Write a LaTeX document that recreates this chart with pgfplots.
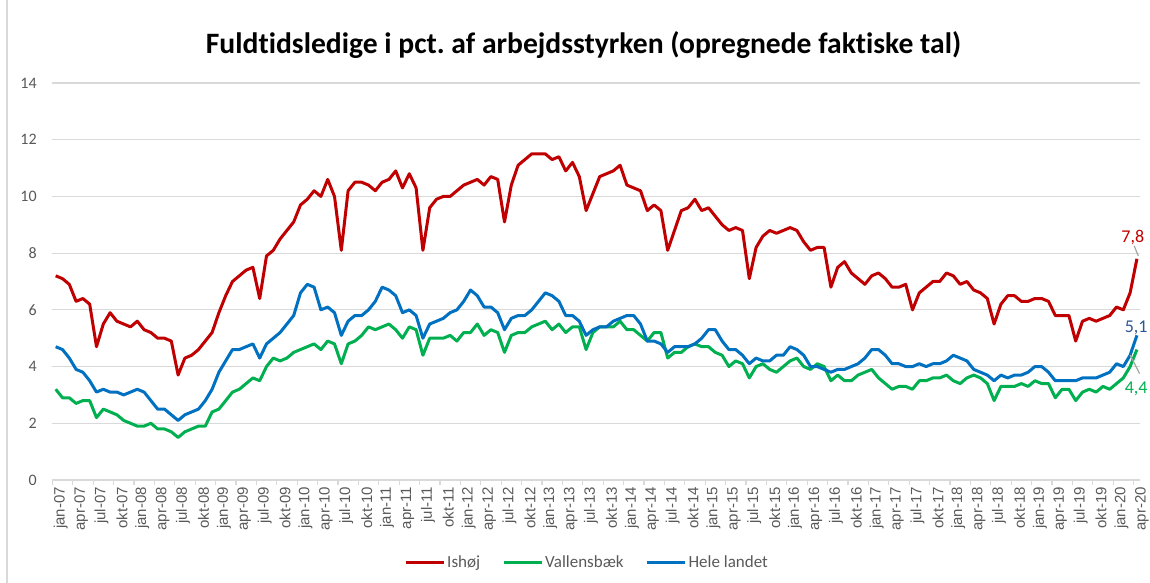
\documentclass[border=0pt]{standalone}
\usepackage{fontspec}
\setmainfont{Carlito}[Ligatures=NoCommon]
\newfontfamily\arialf{Liberation Sans}
\usepackage{pgfplots}
\usepackage{pgfplotstable}
\pgfplotsset{compat=1.18}
\definecolor{cred}{HTML}{C00000}
\definecolor{cgreen}{HTML}{00B050}
\definecolor{cblue}{HTML}{0070C0}
\definecolor{lblue}{HTML}{2F5597}
\definecolor{gridc}{HTML}{D9D9D9}
\definecolor{txt}{HTML}{595959}

\pgfplotstableread{
ish val hel
7.2 3.2 4.7
7.1 2.9 4.6
6.9 2.9 4.3
6.3 2.7 3.9
6.4 2.8 3.8
6.2 2.8 3.5
4.7 2.2 3.1
5.5 2.5 3.2
5.9 2.4 3.1
5.6 2.3 3.1
5.5 2.1 3.0
5.4 2.0 3.1
5.6 1.9 3.2
5.3 1.9 3.1
5.2 2.0 2.8
5.0 1.8 2.5
5.0 1.8 2.5
4.9 1.7 2.3
3.7 1.5 2.1
4.3 1.7 2.3
4.4 1.8 2.4
4.6 1.9 2.5
4.9 1.9 2.8
5.2 2.4 3.2
5.9 2.5 3.8
6.5 2.8 4.2
7.0 3.1 4.6
7.2 3.2 4.6
7.4 3.4 4.7
7.5 3.6 4.8
6.4 3.5 4.3
7.9 4.0 4.8
8.1 4.3 5.0
8.5 4.2 5.2
8.8 4.3 5.5
9.1 4.5 5.8
9.7 4.6 6.6
9.9 4.7 6.9
10.2 4.8 6.8
10.0 4.6 6.0
10.6 4.9 6.1
10.0 4.8 5.9
8.1 4.1 5.1
10.2 4.8 5.6
10.5 4.9 5.8
10.5 5.1 5.8
10.4 5.4 6.0
10.2 5.3 6.3
10.5 5.4 6.8
10.6 5.5 6.7
10.9 5.3 6.5
10.3 5.0 5.9
10.8 5.4 6.0
10.3 5.3 5.8
8.1 4.4 5.0
9.6 5.0 5.5
9.9 5.0 5.6
10.0 5.0 5.7
10.0 5.1 5.9
10.2 4.9 6.0
10.4 5.2 6.3
10.5 5.2 6.7
10.6 5.5 6.5
10.4 5.1 6.1
10.7 5.3 6.1
10.6 5.2 5.9
9.1 4.5 5.3
10.4 5.1 5.7
11.1 5.2 5.8
11.3 5.2 5.8
11.5 5.4 6.0
11.5 5.5 6.3
11.5 5.6 6.6
11.3 5.3 6.5
11.4 5.5 6.3
10.9 5.2 5.8
11.2 5.4 5.8
10.7 5.4 5.6
9.5 4.6 5.1
10.1 5.2 5.3
10.7 5.4 5.4
10.8 5.4 5.4
10.9 5.4 5.6
11.1 5.6 5.7
10.4 5.3 5.8
10.3 5.3 5.8
10.2 5.1 5.5
9.5 4.9 4.9
9.7 5.2 4.9
9.5 5.2 4.8
8.1 4.3 4.5
8.8 4.5 4.7
9.5 4.5 4.7
9.6 4.7 4.7
9.9 4.8 4.8
9.5 4.7 5.0
9.6 4.7 5.3
9.3 4.5 5.3
9.0 4.4 4.9
8.8 4.0 4.6
8.9 4.2 4.6
8.8 4.1 4.4
7.1 3.6 4.1
8.2 4.0 4.3
8.6 4.1 4.2
8.8 3.9 4.2
8.7 3.8 4.4
8.8 4.0 4.4
8.9 4.2 4.7
8.8 4.3 4.6
8.4 4.0 4.4
8.1 3.9 4.0
8.2 4.1 4.0
8.2 4.0 3.9
6.8 3.5 3.8
7.5 3.7 3.9
7.7 3.5 3.9
7.3 3.5 4.0
7.1 3.7 4.1
6.9 3.8 4.3
7.2 3.9 4.6
7.3 3.6 4.6
7.1 3.4 4.4
6.8 3.2 4.1
6.8 3.3 4.1
6.9 3.3 4.0
6.0 3.2 4.0
6.6 3.5 4.1
6.8 3.5 4.0
7.0 3.6 4.1
7.0 3.6 4.1
7.3 3.7 4.2
7.2 3.5 4.4
6.9 3.4 4.3
7.0 3.6 4.2
6.7 3.7 3.9
6.6 3.6 3.8
6.4 3.4 3.7
5.5 2.8 3.5
6.2 3.3 3.7
6.5 3.3 3.6
6.5 3.3 3.7
6.3 3.4 3.7
6.3 3.3 3.8
6.4 3.5 4.0
6.4 3.4 4.0
6.3 3.4 3.8
5.8 2.9 3.5
5.8 3.2 3.5
5.8 3.2 3.5
4.9 2.8 3.5
5.6 3.1 3.6
5.7 3.2 3.6
5.6 3.1 3.6
5.7 3.3 3.7
5.8 3.2 3.8
6.1 3.4 4.1
6.0 3.6 4.0
6.6 4.0 4.4
7.8 4.6 5.1
}\data

\begin{document}
\frenchspacing
\begin{tikzpicture}
\useasboundingbox (-26.15pt,-51.5pt) rectangle (548.85pt,240pt);
\draw[gridc, line width=0.6pt] (-22.65pt,-51.5pt) -- (-22.65pt,240pt);
\begin{axis}[
  at={(0pt,0pt)}, anchor=south west,
  scale only axis, width=544pt, height=198.5pt,
  xmin=-0.5, xmax=159.5, ymin=0, ymax=14,
  clip=false,
  axis line style={draw=none},
  ytick={0,2,...,14},
  ymajorgrids, grid style={gridc, line width=0.6pt},
  xtick={0,3,...,159},
  xticklabels={jan-07,apr-07,jul-07,okt-07,jan-08,apr-08,jul-08,okt-08,jan-09,apr-09,jul-09,okt-09,jan-10,apr-10,jul-10,okt-10,jan-11,apr-11,jul-11,okt-11,jan-12,apr-12,jul-12,okt-12,jan-13,apr-13,jul-13,okt-13,jan-14,apr-14,jul-14,okt-14,jan-15,apr-15,jul-15,okt-15,jan-16,apr-16,jul-16,okt-16,jan-17,apr-17,jul-17,okt-17,jan-18,apr-18,jul-18,okt-18,jan-19,apr-19,jul-19,okt-19,jan-20,apr-20},
  minor xtick={-0.5,2.5,...,159.5},
  major tick length=0pt, minor tick length=2.5pt,
  tick align=outside, xtick pos=bottom, ytick pos=left,
  minor tick style={gridc, line width=0.6pt},
  /pgf/number format/assume math mode=true,
  yticklabel style={font=\fontsize{8}{9}\selectfont, text=txt, xshift=-4.3pt},
  xticklabel style={font=\arialf\fontsize{7.5}{8}\selectfont, text=txt, rotate=90, anchor=east, yshift=-2.5pt},
  legend columns=3,
  legend cell align=left,
  legend style={at={(axis description cs:0.4915,-0.209)}, anchor=center, draw=none, fill=none,
    font=\fontsize{8.5}{10}\selectfont, text=txt, nodes={inner xsep=1pt},
    /tikz/every even column/.append style={column sep=10pt}},
  legend image code/.code={\draw[#1] (0pt,0pt) -- (19pt,0pt);},
  every axis plot/.append style={line width=1.5pt, line join=round},
]
\addplot[cred] table[x expr=\coordindex, y=ish] {\data};
\addlegendentry{Ishøj}
\addplot[cgreen] table[x expr=\coordindex, y=val] {\data};
\addlegendentry{Vallensbæk}
\addplot[cblue] table[x expr=\coordindex, y=hel] {\data};
\addlegendentry{Hele landet}
\draw[gray!70, line width=0.6pt] (axis cs:158.6,8.26) -- (axis cs:159.2,7.9);
\draw[gray!70, line width=0.6pt] (axis cs:158,4.41) -- (axis cs:159.4,3.75);
\node[text=cred, font=\fontsize{9}{10}\selectfont] at (axis cs:158.4,8.54) {7,8};
\node[text=lblue, font=\fontsize{9}{10}\selectfont] at (axis cs:158.9,5.37) {5,1};
\node[text=cgreen, font=\fontsize{9}{10}\selectfont] at (axis cs:158.9,3.22) {4,4};
\end{axis}
\node[font=\bfseries\fontsize{14.8}{17}\selectfont] at (265.6pt,217.5pt) {Fuldtidsledige i pct. af arbejdsstyrken (opregnede faktiske tal)};
\end{tikzpicture}
\end{document}
